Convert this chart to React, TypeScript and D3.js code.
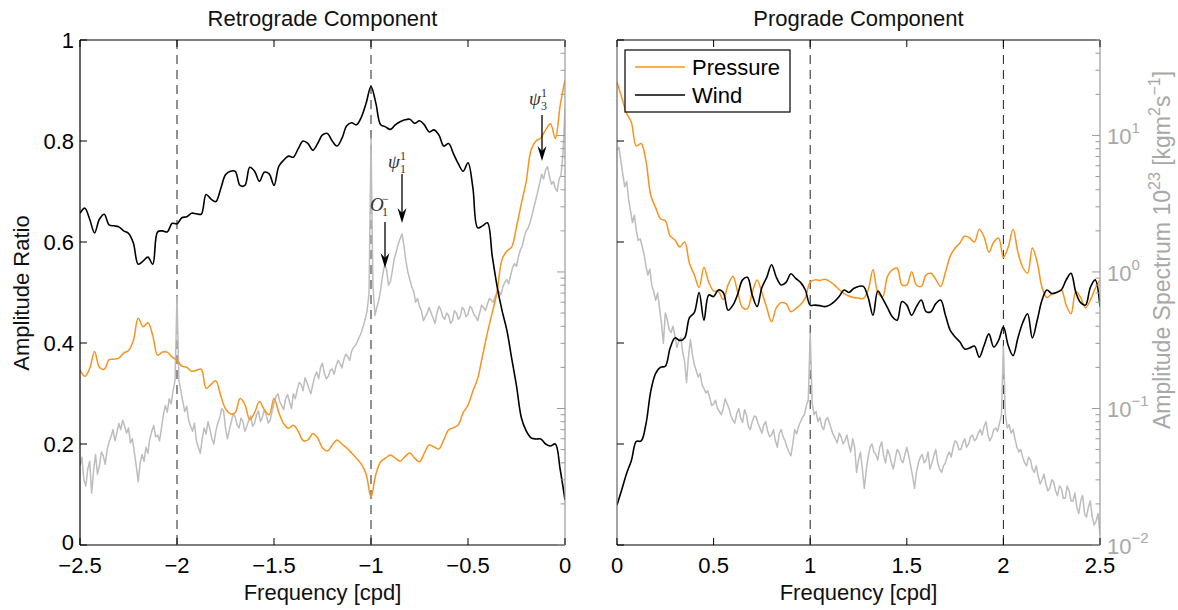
import React from "react";
import * as d3 from "d3";

// ---------- data ----------
const SMOOTH_STEP = 0.025; // cpd spacing of the smoothed ratio curves
const SPEC_STEP = 0.01; // cpd spacing of the amplitude spectrum

const retroStart = -2.5;
const proStart = 0;

const retroWind = [
  0.657, 0.667, 0.645, 0.618, 0.645, 0.655, 0.634, 0.632, 0.63, 0.622,
  0.617, 0.598, 0.556, 0.562, 0.57, 0.556, 0.62, 0.622, 0.62, 0.637,
  0.636, 0.648, 0.65, 0.657, 0.656, 0.655, 0.694, 0.685, 0.68, 0.705,
  0.733, 0.74, 0.74, 0.712, 0.712, 0.748, 0.74, 0.72, 0.738, 0.735,
  0.712, 0.75, 0.762, 0.77, 0.768, 0.785, 0.8, 0.795, 0.782, 0.795,
  0.812, 0.815, 0.8, 0.79, 0.805, 0.83, 0.836, 0.832, 0.847, 0.875,
  0.908, 0.875, 0.832, 0.828, 0.823, 0.832, 0.838, 0.842, 0.843, 0.835,
  0.84, 0.832, 0.818, 0.822, 0.812, 0.79, 0.795, 0.775, 0.755, 0.74,
  0.757, 0.708, 0.628, 0.632, 0.638, 0.572, 0.512, 0.465, 0.426, 0.37,
  0.315, 0.252, 0.226, 0.212, 0.21, 0.21, 0.2, 0.196, 0.2, 0.15,
  0.089,
];

const retroPressure = [
  0.347, 0.334, 0.35, 0.383, 0.352, 0.348, 0.367, 0.368, 0.37, 0.38,
  0.385, 0.405, 0.449, 0.432, 0.44, 0.415, 0.376, 0.382, 0.382, 0.372,
  0.366, 0.354, 0.352, 0.344, 0.346, 0.348, 0.31, 0.318, 0.325, 0.296,
  0.27, 0.26, 0.262, 0.29, 0.278, 0.248, 0.262, 0.284, 0.268, 0.258,
  0.29, 0.262, 0.24, 0.231, 0.237, 0.225, 0.207, 0.208, 0.221, 0.212,
  0.192, 0.186, 0.198, 0.208, 0.2, 0.192, 0.182, 0.172, 0.16, 0.14,
  0.095, 0.14, 0.165, 0.172, 0.178, 0.172, 0.166, 0.175, 0.182, 0.172,
  0.165, 0.182, 0.198, 0.194, 0.19, 0.208, 0.228, 0.232, 0.238, 0.262,
  0.277, 0.305, 0.33, 0.375, 0.42, 0.46, 0.502, 0.565, 0.582, 0.59,
  0.63, 0.676, 0.72, 0.782, 0.8, 0.806, 0.822, 0.834, 0.805, 0.87,
  0.921,
];

const retroSpectrum = [
  0.038, 0.044, 0.03, 0.027, 0.036, 0.041, 0.024, 0.035, 0.046, 0.033,
  0.038, 0.048, 0.045, 0.039, 0.05, 0.057, 0.062, 0.07, 0.058, 0.066,
  0.078, 0.07, 0.082, 0.074, 0.066, 0.072, 0.056, 0.06, 0.048, 0.038,
  0.029, 0.04, 0.046, 0.041, 0.052, 0.047, 0.06, 0.068, 0.075, 0.062,
  0.064, 0.058, 0.072, 0.09, 0.105, 0.094, 0.118, 0.108, 0.135, 0.16,
  0.66, 0.16, 0.135, 0.112, 0.095, 0.104, 0.082, 0.074, 0.068, 0.078,
  0.058, 0.052, 0.047, 0.06, 0.072, 0.065, 0.08, 0.07, 0.06, 0.055,
  0.068, 0.078, 0.085, 0.1, 0.096, 0.072, 0.06, 0.07, 0.08, 0.092,
  0.086, 0.076, 0.072, 0.085, 0.08, 0.068, 0.074, 0.082, 0.088, 0.074,
  0.078, 0.09, 0.096, 0.08, 0.086, 0.098, 0.09, 0.078, 0.082, 0.095,
  0.11, 0.122, 0.128, 0.112, 0.105, 0.098, 0.118, 0.126, 0.112, 0.1,
  0.128, 0.118, 0.138, 0.155, 0.15, 0.135, 0.168, 0.155, 0.14, 0.128,
  0.15, 0.172, 0.185, 0.165, 0.2, 0.215, 0.18, 0.165, 0.172, 0.19,
  0.195, 0.178, 0.205, 0.225, 0.214, 0.198, 0.228, 0.25, 0.24, 0.225,
  0.262, 0.28, 0.29, 0.31, 0.335, 0.36, 0.4, 0.45, 0.52, 0.7,
  9.5, 0.8, 0.48, 0.55, 0.62, 0.75, 0.95, 1.12, 1.05, 0.8,
  0.85, 1.02, 1.25, 1.4, 1.6, 1.75, 1.9, 1.55, 1.2, 1.0,
  0.88, 0.78, 0.72, 0.6, 0.64, 0.56, 0.52, 0.44, 0.47, 0.5,
  0.55, 0.5, 0.46, 0.42, 0.5, 0.56, 0.53, 0.47, 0.45, 0.5,
  0.48, 0.42, 0.44, 0.52, 0.5, 0.45, 0.47, 0.55, 0.53, 0.47,
  0.49, 0.56, 0.54, 0.49, 0.47, 0.44, 0.5, 0.57, 0.55, 0.52,
  0.58, 0.64, 0.62, 0.6, 0.66, 0.7, 0.72, 0.68, 0.78, 0.84,
  0.88, 0.82, 0.95, 1.08, 1.15, 1.1, 1.3, 1.45, 1.55, 1.8,
  2.0, 2.1, 2.3, 2.6, 3.0, 3.4, 3.9, 4.5, 5.2, 4.8,
  5.6, 5.9, 5.0, 4.4, 4.6, 4.1, 3.9, 4.8, 5.2, 7.5,
  16,
];

const proWind = [
  0.079, 0.11, 0.142, 0.168, 0.205, 0.206, 0.24, 0.305, 0.34, 0.352,
  0.354, 0.39, 0.41, 0.405, 0.41, 0.45, 0.46, 0.5, 0.445, 0.495,
  0.492, 0.505, 0.5, 0.465, 0.475, 0.497, 0.525, 0.53, 0.495, 0.472,
  0.51, 0.53, 0.555, 0.53, 0.515, 0.52, 0.537, 0.528, 0.52, 0.505,
  0.475, 0.475, 0.474, 0.472, 0.475, 0.482, 0.492, 0.505, 0.5, 0.508,
  0.512, 0.512, 0.49, 0.455, 0.503, 0.488, 0.47, 0.452, 0.445, 0.482,
  0.475, 0.455, 0.472, 0.485, 0.462, 0.462, 0.478, 0.485, 0.455, 0.425,
  0.412, 0.402, 0.388, 0.39, 0.394, 0.372, 0.395, 0.418, 0.392, 0.405,
  0.432, 0.395, 0.375, 0.41, 0.44, 0.458, 0.41, 0.445, 0.485, 0.505,
  0.498, 0.5, 0.505, 0.525, 0.538, 0.5, 0.48, 0.475, 0.51, 0.525,
  0.472,
];

const proPressure = [
  0.917, 0.885, 0.855, 0.836, 0.79, 0.795, 0.76, 0.692, 0.668, 0.646,
  0.642, 0.612, 0.604, 0.59, 0.6, 0.558, 0.535, 0.51, 0.55, 0.52,
  0.503, 0.502, 0.486, 0.515, 0.532, 0.5, 0.47, 0.468, 0.5, 0.525,
  0.5, 0.47, 0.442, 0.47, 0.48, 0.478, 0.462, 0.468, 0.476, 0.49,
  0.521, 0.525, 0.524, 0.526, 0.522, 0.515, 0.506, 0.498, 0.493, 0.49,
  0.489, 0.488, 0.505, 0.545, 0.5, 0.492, 0.532, 0.545, 0.548, 0.515,
  0.515, 0.541, 0.515, 0.512, 0.535, 0.538, 0.526, 0.512, 0.54, 0.572,
  0.588, 0.598, 0.612, 0.608, 0.6, 0.625, 0.61, 0.58, 0.6, 0.608,
  0.57, 0.59, 0.625, 0.58, 0.55, 0.538, 0.588, 0.56, 0.51, 0.49,
  0.497, 0.5, 0.505, 0.475, 0.458, 0.502, 0.49, 0.47, 0.485, 0.508,
  0.525,
];

const proSpectrum = [
  7.8, 8.2, 6.5, 5.2, 4.2, 4.6, 3.4, 2.8, 2.3, 2.6,
  2.0, 1.7, 1.75, 1.55, 1.35, 1.1, 0.95, 1.05, 0.8, 0.72,
  0.62, 0.7, 0.55, 0.42, 0.3, 0.5, 0.45, 0.38, 0.36, 0.4,
  0.34, 0.28, 0.31, 0.33, 0.26, 0.22, 0.155, 0.24, 0.32, 0.25,
  0.21, 0.19, 0.17, 0.18, 0.15, 0.14, 0.13, 0.135, 0.12, 0.105,
  0.108, 0.115, 0.1, 0.095, 0.09, 0.1, 0.118, 0.108, 0.1, 0.088,
  0.082, 0.078, 0.092, 0.1, 0.085, 0.079, 0.098, 0.09, 0.074, 0.07,
  0.08, 0.088, 0.087, 0.078, 0.072, 0.066, 0.076, 0.08, 0.068, 0.062,
  0.064, 0.07, 0.058, 0.052, 0.066, 0.07, 0.062, 0.058, 0.052, 0.048,
  0.045, 0.055, 0.07, 0.065, 0.074, 0.08, 0.086, 0.09, 0.105, 0.115,
  0.356, 0.11, 0.09, 0.095, 0.08, 0.086, 0.074, 0.07, 0.082, 0.086,
  0.078, 0.07, 0.064, 0.06, 0.056, 0.066, 0.062, 0.055, 0.058, 0.064,
  0.054, 0.048, 0.06, 0.052, 0.034, 0.042, 0.048, 0.036, 0.026, 0.035,
  0.044, 0.052, 0.055, 0.048, 0.046, 0.042, 0.052, 0.057, 0.045, 0.04,
  0.05, 0.046, 0.04, 0.036, 0.043, 0.05, 0.048, 0.042, 0.04, 0.046,
  0.052, 0.045, 0.038, 0.032, 0.026, 0.034, 0.04, 0.044, 0.046, 0.04,
  0.042, 0.048, 0.036, 0.04, 0.045, 0.05, 0.04, 0.036, 0.034, 0.038,
  0.04, 0.045, 0.048, 0.044, 0.052, 0.058, 0.056, 0.05, 0.05, 0.056,
  0.06, 0.052, 0.055, 0.062, 0.064, 0.058, 0.06, 0.066, 0.07, 0.064,
  0.074, 0.08, 0.064, 0.058, 0.062, 0.07, 0.072, 0.068, 0.078, 0.09,
  0.284, 0.09, 0.072, 0.076, 0.066, 0.07, 0.06, 0.052, 0.048, 0.05,
  0.044, 0.04, 0.038, 0.044, 0.042, 0.036, 0.034, 0.038, 0.032, 0.028,
  0.03, 0.033, 0.028, 0.025, 0.026, 0.03, 0.029, 0.025, 0.023, 0.027,
  0.026, 0.022, 0.022, 0.027, 0.025, 0.021, 0.021, 0.024, 0.019, 0.017,
  0.021, 0.023, 0.017, 0.016, 0.019, 0.021, 0.016, 0.014, 0.015, 0.017,
  0.012,
];

const retroTicks = [-2.5, -2, -1.5, -1, -0.5, 0];
const retroTickLabels = ["\u22122.5", "\u22122", "\u22121.5", "\u22121", "\u22120.5", "0"];
const proTicks = [0, 0.5, 1, 1.5, 2, 2.5];
const proTickLabels = ["0", "0.5", "1", "1.5", "2", "2.5"];
const ratioTicks = [0, 0.2, 0.4, 0.6, 0.8, 1];
const ratioTickLabels = ["0", "0.2", "0.4", "0.6", "0.8", "1"];
const specDecades = [10, 1, 0.1, 0.01];
const specDecadeExps = ["1", "0", "\u22121", "\u22122"];
const retroDashed = [-2, -1];
const proDashed = [1, 2];
const SPEC_DOMAIN: [number, number] = [0.01, 50];

// ---------- layout ----------
const W = 1178;
const H = 610;
const TOP = 40;
const BOTTOM = 545;
const FS = 22;
const FONT = "'Liberation Sans', Arial, Helvetica, sans-serif";
const SERIF = "'Liberation Serif', 'DejaVu Serif', serif";
const ORANGE = "#f7941d";
const GREY = "#bdbdbd";
const AXGREY = "#9a9a9a";
const LABELGREY = "#a8a8a8";

type PanelProps = {
  id: string;
  x0: number;
  x1: number;
  domain: [number, number];
  start: number;
  wind: number[];
  pressure: number[];
  spectrum: number[];
  dashed: number[];
  ticks: number[];
  tickLabels: string[];
  title: string;
  leftLabels: boolean;
  rightLabels: boolean;
};

function Panel(p: PanelProps) {
  const x = d3.scaleLinear().domain(p.domain).range([p.x0, p.x1]);
  const y = d3.scaleLinear().domain([0, 1]).range([BOTTOM, TOP]);
  const ys = d3.scaleLog().domain(SPEC_DOMAIN).range([BOTTOM, TOP]);

  const smooth = d3
    .line<number>()
    .x((_, i) => x(p.start + i * SMOOTH_STEP))
    .y((d) => y(d))
    .curve(d3.curveCatmullRom.alpha(0.5));
  const spec = d3
    .line<number>()
    .x((_, i) => x(p.start + i * SPEC_STEP))
    .y((d) => ys(d));

  const logTicks = ys.ticks();
  const isMajor = (v: number) => Math.abs(Math.log10(v) - Math.round(Math.log10(v))) < 1e-9;
  const cx = (p.x0 + p.x1) / 2;

  return (
    <g>
      <defs>
        <clipPath id={p.id}>
          <rect x={p.x0} y={TOP} width={p.x1 - p.x0} height={BOTTOM - TOP} />
        </clipPath>
      </defs>
      <text x={cx} y={26} textAnchor="middle" fontSize={FS} fontFamily={FONT} fill="#111">
        {p.title}
      </text>

      {/* dashed reference lines */}
      {p.dashed.map((d) => (
        <line key={d} x1={x(d)} x2={x(d)} y1={TOP} y2={BOTTOM} stroke="#222" strokeWidth={1} strokeDasharray="9,6" />
      ))}

      <g clipPath={`url(#${p.id})`}>
        <path d={spec(p.spectrum) || ""} fill="none" stroke={GREY} strokeWidth={1.5} strokeLinejoin="round" />
        <path d={smooth(p.pressure) || ""} fill="none" stroke={ORANGE} strokeWidth={1.5} />
        <path d={smooth(p.wind) || ""} fill="none" stroke="#000" strokeWidth={1.6} />
      </g>

      {/* frame */}
      <line x1={p.x0} x2={p.x1} y1={TOP} y2={TOP} stroke="#000" strokeWidth={1.2} />
      <line x1={p.x0} x2={p.x1} y1={BOTTOM} y2={BOTTOM} stroke="#000" strokeWidth={1.2} />
      <line x1={p.x0} x2={p.x0} y1={TOP} y2={BOTTOM} stroke={p.leftLabels ? "#000" : "#666"} strokeWidth={1.2} />
      <line x1={p.x1} x2={p.x1} y1={TOP} y2={BOTTOM} stroke={AXGREY} strokeWidth={1.2} />

      {/* x ticks */}
      {p.ticks.map((t, i) => (
        <g key={t}>
          <line x1={x(t)} x2={x(t)} y1={BOTTOM} y2={BOTTOM - 7} stroke="#000" />
          <line x1={x(t)} x2={x(t)} y1={TOP} y2={TOP + 7} stroke="#000" />
          <text x={x(t)} y={573} textAnchor="middle" fontSize={FS} fontFamily={FONT} fill="#000">
            {p.tickLabels[i]}
          </text>
        </g>
      ))}
      <text x={cx} y={600} textAnchor="middle" fontSize={FS} fontFamily={FONT} fill="#111">
        Frequency [cpd]
      </text>

      {/* left ratio ticks */}
      {ratioTicks.map((t, i) => (
        <g key={t}>
          <line x1={p.x0} x2={p.x0 + 7} y1={y(t)} y2={y(t)} stroke="#000" />
          {p.leftLabels && (
            <text x={74} y={y(t) + (t === 0 ? 5 : 8)} textAnchor="end" fontSize={FS} fontFamily={FONT} fill="#000">
              {ratioTickLabels[i]}
            </text>
          )}
        </g>
      ))}

      {/* right log ticks */}
      {logTicks.map((t) => (
        <line key={t} x1={p.x1} x2={p.x1 - (isMajor(t) ? 8 : 4.5)} y1={ys(t)} y2={ys(t)} stroke={AXGREY} />
      ))}
      {p.rightLabels &&
        specDecades.map((d, i) => (
          <text key={d} x={p.x1 + 7} y={ys(d) + 9} fontSize={FS} fontFamily={FONT} fill={LABELGREY}>
            10
            <tspan fontSize={15} dy={-11}>
              {specDecadeExps[i]}
            </tspan>
          </text>
        ))}
    </g>
  );
}

function Arrow({ x, y1, y2 }: { x: number; y1: number; y2: number }) {
  return (
    <g>
      <line x1={x} x2={x} y1={y1} y2={y2 - 8} stroke="#000" strokeWidth={1.3} />
      <path d={`M${x},${y2} L${x - 4.5},${y2 - 15} L${x},${y2 - 10} L${x + 4.5},${y2 - 15} Z`} fill="#000" />
    </g>
  );
}

function Label({ x, y, main, sup, sub }: { x: number; y: number; main: string; sup: string; sub: string }) {
  return (
    <g fontFamily={SERIF} fontStyle="italic" fill="#333">
      <text x={x} y={y} fontSize={19}>
        {main}
      </text>
      <text x={x + 12} y={y - 8} fontSize={12} fontStyle="normal">
        {sup}
      </text>
      <text x={x + 12} y={y + 5} fontSize={12} fontStyle="normal">
        {sub}
      </text>
    </g>
  );
}

export default function App() {
  const xr = d3.scaleLinear().domain([-2.5, 0]).range([80, 565]);
  const xp = d3.scaleLinear().domain([0, 2.5]).range([617, 1100]);
  return (
    <svg width={W} height={H} style={{ position: "absolute", left: 0, top: 0, background: "#fff" }}>
      <rect x={0} y={0} width={W} height={H} fill="#fff" />
      <Panel
        id="clipRetro"
        x0={xr(-2.5)}
        x1={xr(0)}
        domain={[-2.5, 0]}
        start={retroStart}
        wind={retroWind}
        pressure={retroPressure}
        spectrum={retroSpectrum}
        dashed={retroDashed}
        ticks={retroTicks}
        tickLabels={retroTickLabels}
        title="Retrograde Component"
        leftLabels={true}
        rightLabels={false}
      />
      <Panel
        id="clipPro"
        x0={xp(0)}
        x1={xp(2.5)}
        domain={[0, 2.5]}
        start={proStart}
        wind={proWind}
        pressure={proPressure}
        spectrum={proSpectrum}
        dashed={proDashed}
        ticks={proTicks}
        tickLabels={proTickLabels}
        title="Prograde Component"
        leftLabels={false}
        rightLabels={true}
      />

      {/* y labels */}
      <text
        transform="translate(29,293) rotate(-90)"
        textAnchor="middle"
        fontSize={FS}
        fontFamily={FONT}
        fill="#111"
      >
        Amplitude Ratio
      </text>
      <text
        transform="translate(1170,250) rotate(-90)"
        textAnchor="middle"
        fontSize={23}
        fontFamily={FONT}
        fill={LABELGREY}
      >
        Amplitude Spectrum 10
        <tspan fontSize={16} dy={-10}>23</tspan>
        <tspan dy={10}> [kgm</tspan>
        <tspan fontSize={16} dy={-10}>2</tspan>
        <tspan dy={10}>s</tspan>
        <tspan fontSize={16} dy={-10}>{"\u22121"}</tspan>
        <tspan dy={10}>]</tspan>
      </text>

      {/* annotations */}
      <Label x={529} y={105} main={"\u03c8"} sup="1" sub="3" />
      <Arrow x={542} y1={115} y2={161} />
      <Label x={388} y={168} main={"\u03c8"} sup="1" sub="1" />
      <Arrow x={402} y1={174} y2={223} />
      <Label x={370} y={211} main="O" sup={"\u2212"} sub="1" />
      <Arrow x={385} y1={222} y2={268} />

      {/* legend */}
      <g>
        <rect x={625} y={50} width={165} height={62} fill="#fff" stroke="#000" strokeWidth={1.2} />
        <line x1={635} x2={685} y1={67} y2={67} stroke={ORANGE} strokeWidth={1.5} />
        <line x1={635} x2={685} y1={95} y2={95} stroke="#000" strokeWidth={1.5} />
        <text x={692} y={75} fontSize={FS} fontFamily={FONT} fill="#000">
          Pressure
        </text>
        <text x={692} y={103} fontSize={FS} fontFamily={FONT} fill="#000">
          Wind
        </text>
      </g>
    </svg>
  );
}
